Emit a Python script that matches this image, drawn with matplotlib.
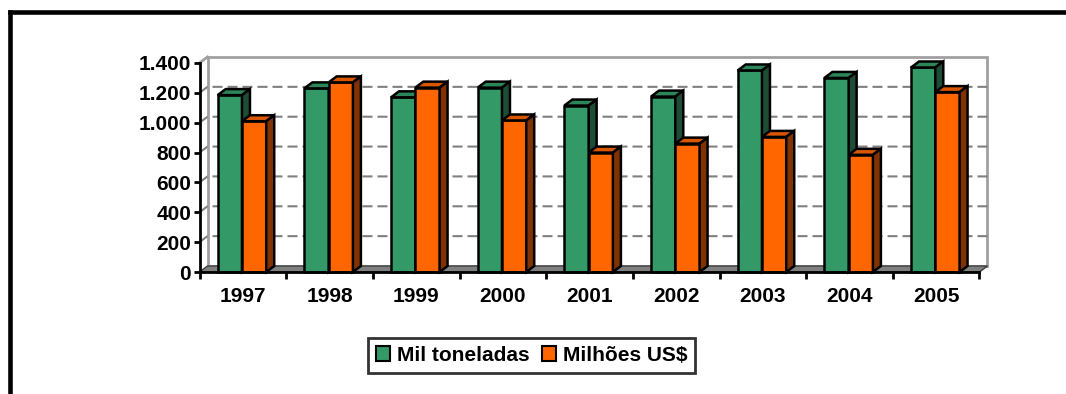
import matplotlib
matplotlib.use("Agg")
import matplotlib.pyplot as plt
from matplotlib.patches import Rectangle, Polygon, Patch
from matplotlib.lines import Line2D

years = ["1997", "1998", "1999", "2000", "2001", "2002", "2003", "2004", "2005"]
mil_toneladas = [1185, 1230, 1170, 1235, 1115, 1175, 1350, 1300, 1370]
milhoes_usd = [1010, 1270, 1235, 1015, 800, 860, 905, 785, 1205]
y_ticks = [0, 200, 400, 600, 800, 1000, 1200, 1400]
y_labels = ["0", "200", "400", "600", "800", "1.000", "1.200", "1.400"]

plt.rcParams["font.family"] = ["Liberation Sans", "DejaVu Sans"]
plt.rcParams["font.weight"] = "bold"
plt.rcParams["lines.scale_dashes"] = False

W, H, dpi = 1066, 394, 100
fig = plt.figure(figsize=(W / dpi, H / dpi), dpi=dpi)

# front plane of the plot, in pixels
left, right, bottom, top = 199.5, 979.5, 272, 63
ax = fig.add_axes([left / W, (H - bottom) / H, (right - left) / W, (bottom - top) / H])
n = len(years)
ymax = 1400
ax.set_xlim(0, n)
ax.set_ylim(0, ymax)
ax.patch.set_visible(False)

# fake 3d depth, pixels -> data units
ddx = 8 * n / (right - left)
ddy = 6 * ymax / (bottom - top)

wall_gray = "#a0a0a0"
# back wall
ax.add_patch(Rectangle((ddx, ddy), n, ymax, facecolor="white", edgecolor=wall_gray,
                       lw=2, clip_on=False, zorder=0))
# left wall top edge
ax.plot([0, ddx], [ymax, ymax + ddy], color=wall_gray, lw=2, clip_on=False, zorder=0)
# floor
ax.add_patch(Polygon([(0, 0), (n, 0), (n + ddx, ddy), (ddx, ddy)], closed=True,
                     facecolor="#808080", edgecolor="#404040", lw=1, clip_on=False, zorder=1))

# gridlines on the back wall
for v in y_ticks[1:-1]:
    ax.plot([0, ddx, n + ddx], [v, v + ddy, v + ddy], color="#808080", lw=1.5,
            linestyle=(0, (7.2, 3.6)), clip_on=False, zorder=1)


def draw_bar(x0, w, h, front, topc, sidec):
    kw = dict(edgecolor="black", lw=1.8, clip_on=False, zorder=3, joinstyle="miter")
    ax.add_patch(Rectangle((x0, 0), w, h, facecolor=front, **kw))
    ax.add_patch(Polygon([(x0, h), (x0 + w, h), (x0 + w + ddx, h + ddy), (x0 + ddx, h + ddy)],
                         closed=True, facecolor=topc, **kw))
    ax.add_patch(Polygon([(x0 + w, 0), (x0 + w + ddx, ddy), (x0 + w + ddx, h + ddy), (x0 + w, h)],
                         closed=True, facecolor=sidec, **kw))


bw = 0.28
for i in range(n):
    draw_bar(i + 0.21, bw, mil_toneladas[i], "#339966", "#2d8659", "#1e4d35")
    draw_bar(i + 0.21 + bw, bw, milhoes_usd[i], "#ff6600", "#d95700", "#803300")

for s in ["top", "right"]:
    ax.spines[s].set_visible(False)
for s in ["left", "bottom"]:
    ax.spines[s].set_linewidth(2)
    ax.spines[s].set_color("black")
    ax.spines[s].set_zorder(5)

ax.set_yticks(y_ticks)
ax.set_yticklabels(y_labels, fontsize=15, fontweight="bold")
ax.tick_params(axis="y", direction="out", length=4, width=2, pad=2)

ax.set_xticks([i + 0.5 for i in range(n)])
ax.set_xticklabels(years, fontsize=15, fontweight="bold")
ax.set_xticks(range(n + 1), minor=True)
ax.tick_params(axis="x", which="major", length=0, pad=11)
ax.tick_params(axis="x", which="minor", direction="out", length=5, width=2)

handles = [Patch(facecolor="#339966", edgecolor="black", lw=1.5, label="Mil toneladas"),
           Patch(facecolor="#ff6600", edgecolor="black", lw=1.5, label="Milhões US$")]
leg = fig.legend(handles=handles, loc="center", bbox_to_anchor=(531.5 / W, 1 - 355.5 / H),
                 ncol=2, frameon=True, fancybox=False, edgecolor="black",
                 prop={"weight": "bold", "size": 15}, handlelength=0.7, handleheight=0.7,
                 handletextpad=0.3, columnspacing=0.6, borderpad=0.4)
leg.get_frame().set_linewidth(2)

# outer frame (top and left only)
fig.add_artist(Line2D([9.5 / W, 9.5 / W], [0, 1 - 11.7 / H], transform=fig.transFigure,
                      color="black", lw=3.3, solid_capstyle="projecting"))
fig.add_artist(Line2D([9.5 / W, 1], [1 - 11.7 / H, 1 - 11.7 / H], transform=fig.transFigure,
                      color="black", lw=3.3, solid_capstyle="projecting"))

fig.savefig("out.png", dpi=dpi)
